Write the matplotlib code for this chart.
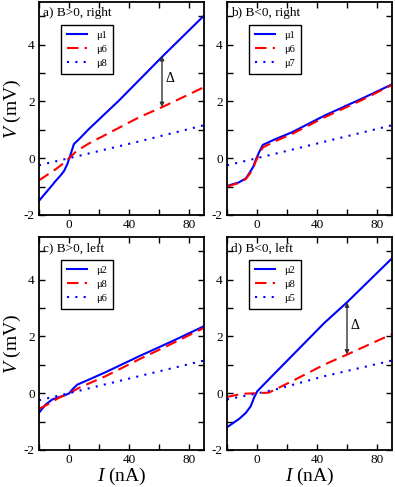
import numpy as np
import matplotlib
matplotlib.use('Agg')
import matplotlib.pyplot as plt
from matplotlib.ticker import MultipleLocator

plt.rcParams['font.family'] = ['Liberation Serif', 'DejaVu Serif']
plt.rcParams['mathtext.fontset'] = 'custom'
plt.rcParams['mathtext.it'] = 'Liberation Serif:italic'
plt.rcParams['mathtext.rm'] = 'Liberation Serif'

BLUE = '#0000ff'
RED = '#ff0000'

# panel a) B>0, right
a_mu1_x = [-20, -12, -8.9, -5.5, -3.3, -1.1, 0, 1.1, 3.3, 6.7, 13.3, 33.3, 63, 90]
a_mu1_y = [-1.5, -1.0, -0.8, -0.6, -0.45, -0.21, -0.03, 0.14, 0.5, 0.67, 1.03, 2.03, 3.62, 5.02]
a_mu6_x = [-20, -8.9, -3, 0, 5, 13.3, 46.7, 63, 90]
a_mu6_y = [-0.78, -0.39, -0.15, 0.0, 0.25, 0.52, 1.44, 1.82, 2.5]
a_mu8_x = [-20, 0, 46.7, 90]
a_mu8_y = [-0.25, 0.0, 0.59, 1.16]

# panel b) B<0, right
b_mu1_x = [-20, -12, -7.4, -4.2, -2.5, -0.9, 1.3, 3.9, 12.2, 23.2, 45, 70, 90]
b_mu1_y = [-0.98, -0.85, -0.71, -0.45, -0.3, -0.07, 0.2, 0.47, 0.67, 0.91, 1.5, 2.1, 2.6]
b_mu6_x = [-20, -12, -7.4, -4.2, -2.5, -0.9, 1.3, 3.9, 12.2, 23.2, 45, 70, 90]
b_mu6_y = [-1.0, -0.87, -0.73, -0.5, -0.35, -0.12, 0.12, 0.38, 0.6, 0.85, 1.44, 2.05, 2.58]
b_mu7_x = [-20, 0, 45, 90]
b_mu7_y = [-0.25, 0.0, 0.58, 1.16]

# panel c) B>0, left
c_mu2_x = [-20, -15.6, -11.1, -4.4, 0, 2.2, 5.5, 13.3, 24.4, 46.7, 70, 90]
c_mu2_y = [-0.69, -0.4, -0.22, -0.1, -0.01, 0.13, 0.3, 0.48, 0.74, 1.3, 1.86, 2.36]
c_mu8_x = [-20, -14.4, -6.7, 0, 6.7, 24.4, 46.7, 70, 90]
c_mu8_y = [-0.55, -0.4, -0.16, -0.01, 0.19, 0.6, 1.19, 1.78, 2.3]
c_mu6_x = [-20, 0, 46.7, 90]
c_mu6_y = [-0.25, 0.0, 0.6, 1.15]

# panel d) B<0, left
d_mu2_x = [-20, -11.8, -7.4, -4.2, -2, 0.2, 3.5, 12.2, 23.2, 45, 60, 90]
d_mu2_y = [-1.2, -0.9, -0.69, -0.46, -0.16, 0.07, 0.25, 0.72, 1.31, 2.48, 3.2, 4.75]
d_mu8_x = [-20, -9.6, 0, 7.9, 12.2, 23.2, 45, 60, 90]
d_mu8_y = [-0.13, -0.02, 0.0, 0.02, 0.13, 0.42, 1.01, 1.36, 2.08]
d_mu5_x = [-20, 0, 12.2, 45, 90]
d_mu5_y = [-0.22, -0.01, 0.13, 0.6, 1.15]

panels = [
    ('a) B>0, right', [(a_mu1_x, a_mu1_y, '\u03bc1'), (a_mu6_x, a_mu6_y, '\u03bc6'), (a_mu8_x, a_mu8_y, '\u03bc8')], (62, 3.6, 1.8)),
    ('b) B<0, right', [(b_mu1_x, b_mu1_y, '\u03bc1'), (b_mu6_x, b_mu6_y, '\u03bc6'), (b_mu7_x, b_mu7_y, '\u03bc7')], None),
    ('c) B>0, left', [(c_mu2_x, c_mu2_y, '\u03bc2'), (c_mu8_x, c_mu8_y, '\u03bc8'), (c_mu6_x, c_mu6_y, '\u03bc6')], None),
    ('d) B<0, left', [(d_mu2_x, d_mu2_y, '\u03bc2'), (d_mu8_x, d_mu8_y, '\u03bc8'), (d_mu5_x, d_mu5_y, '\u03bc5')], (60, 3.2, 1.36)),
]

W, H = 395, 487
fig = plt.figure(figsize=(W / 100, H / 100), dpi=100)
boxes = [(39, 2), (227, 2), (39, 237), (227, 237)]
aw, ah = 165, 213

styles = [dict(color=BLUE, ls='-'), dict(color=RED, ls=(0, (5.5, 3))), dict(color=BLUE, ls=(0, (1, 3)))]

for i, ((title, curves, arrow), (x0, y0)) in enumerate(zip(panels, boxes)):
    ax = fig.add_axes([x0 / W, 1 - (y0 + ah) / H, aw / W, ah / H])
    for (xs, ys, lab), st in zip(curves, styles):
        ax.plot(xs, ys, lw=1.5, label=lab, **st)
    ax.set_xlim(-20, 90)
    ax.set_ylim(-2, 5.5)
    ax.xaxis.set_major_locator(MultipleLocator(40))
    ax.xaxis.set_minor_locator(MultipleLocator(20))
    ax.yaxis.set_major_locator(MultipleLocator(2))
    ax.yaxis.set_minor_locator(MultipleLocator(1))
    ax.tick_params(which='both', direction='in', top=True, right=True, labelsize=9.5, pad=3)
    ax.tick_params(which='both', length=4, width=1)
    for s in ax.spines.values():
        s.set_linewidth(1.3)
    ax.set_yticks([-2, 0, 2, 4])
    ax.set_yticklabels(['-2', '0', '2', '4'])
    ax.text(0.025, 0.975, title, transform=ax.transAxes, fontsize=9.5, va='top', ha='left')
    leg = ax.legend(loc='upper left', bbox_to_anchor=(0.135, 0.892), fontsize=7.5,
                    handlelength=1.9, fancybox=False, framealpha=1, edgecolor='black',
                    borderpad=0.55, labelspacing=0.45, handletextpad=0.9, borderaxespad=0)
    leg.get_frame().set_linewidth(1.0)
    if arrow is not None:
        xa, ytop, ybot = arrow
        ax.annotate('', xy=(xa, ybot), xytext=(xa, ytop),
                    arrowprops=dict(arrowstyle='<|-|>', color='#333333', lw=1.0,
                                    mutation_scale=6, shrinkA=0, shrinkB=0))
        ax.text(xa + 2.5, (ytop + ybot) / 2 + 0.1, '\u0394', fontsize=10, va='center', ha='left')
    if i % 2 == 0:
        ax.set_ylabel('$V$ (mV)', fontsize=14)
        ax.yaxis.set_label_coords(-0.095, 0.5)
    if i >= 2:
        ax.set_xlabel('$I$ (nA)', fontsize=14, labelpad=0)

fig.savefig('out.png', dpi=100)
